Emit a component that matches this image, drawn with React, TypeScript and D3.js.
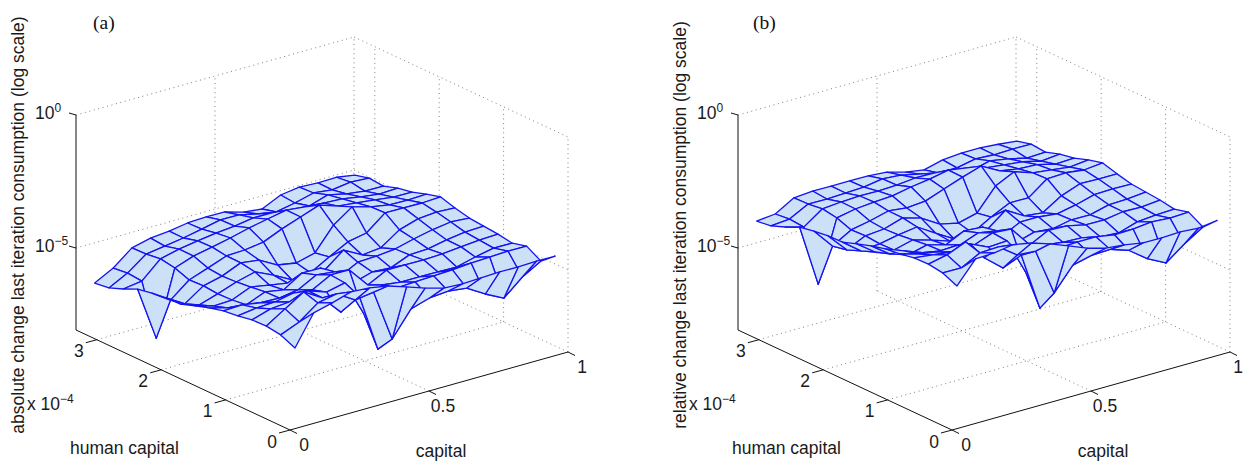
import React from "react";
import * as d3 from "d3";

const capitalGrid = [0.018,0.085,0.152,0.219,0.286,0.352,0.419,0.486,0.553,0.620,0.687,0.754,0.821,0.887,0.954];
const humanGrid = [0,0.222,0.444,0.667,0.889,1.111,1.333,1.556,1.778,2,2.222,2.444,2.667,2.889,3.111];
const humanTicks = [0,1,2,3];
const capitalTicks = [0,0.5,1];
const logTicks = [0,-5];

// log10 of the change; rows: human capital, columns: capital
const absoluteChange = [
[-5.05,-3.93,-3.75,-3.53,-3.58,-3.70,-3.93,-4.17,-4.37,-4.41,-4.38,-4.35,-4.36,-4.33,-4.34],
[-4.81,-4.52,-4.00,-3.86,-4.28,-4.18,-6.14,-5.21,-4.99,-4.93,-5.01,-5.43,-5.78,-5.18,-4.78],
[-4.73,-4.28,-3.84,-4.26,-4.99,-4.58,-6.77,-4.67,-4.64,-4.61,-4.58,-4.52,-4.49,-4.46,-4.47],
[-4.75,-4.53,-4.47,-4.25,-4.49,-4.34,-5.67,-4.81,-4.90,-4.90,-4.91,-4.92,-4.74,-4.60,-4.61],
[-4.85,-4.75,-4.72,-4.58,-4.66,-4.29,-4.30,-5.06,-4.70,-4.70,-4.71,-4.68,-4.61,-4.55,-4.52],
[-4.91,-4.88,-5.00,-5.02,-4.91,-4.54,-4.62,-5.23,-5.02,-5.06,-4.77,-4.74,-4.60,-4.50,-4.47],
[-5.05,-5.25,-5.33,-5.04,-5.16,-4.72,-4.73,-5.26,-4.90,-4.87,-4.80,-4.62,-4.47,-4.37,-4.42],
[-5.23,-5.43,-5.40,-5.11,-5.23,-5.35,-5.35,-5.25,-4.70,-5.08,-5.01,-4.53,-4.31,-4.25,-4.29],
[-5.41,-5.64,-5.42,-5.17,-4.99,-5.30,-5.68,-5.61,-5.21,-4.84,-4.70,-4.14,-4.15,-4.16,-4.13],
[-5.43,-5.85,-5.37,-5.20,-4.90,-4.99,-5.37,-5.49,-5.31,-4.46,-3.97,-4.17,-4.29,-4.30,-4.27],
[-5.50,-5.96,-5.40,-5.15,-4.89,-4.86,-4.76,-4.46,-4.21,-3.96,-4.19,-4.27,-4.35,-4.44,-4.45],
[-5.60,-7.64,-5.20,-4.95,-4.81,-4.66,-4.48,-4.34,-4.20,-4.28,-4.33,-4.37,-4.49,-4.58,-4.55],
[-5.85,-5.75,-5.11,-4.94,-4.83,-4.73,-4.66,-4.55,-4.56,-4.68,-4.69,-4.47,-4.63,-4.72,-4.73],
[-6.06,-5.70,-5.18,-5.08,-4.97,-4.83,-4.68,-4.69,-4.85,-4.97,-4.83,-4.65,-4.73,-4.63,-4.68],
[-6.13,-5.76,-5.20,-5.03,-4.96,-4.85,-4.82,-4.83,-5.03,-5.11,-4.78,-4.68,-4.72,-4.70,-4.82],
];

const relativeChange = [
[-2.72,-1.90,-1.87,-1.76,-1.89,-2.12,-2.39,-2.67,-2.87,-2.94,-3.06,-3.07,-3.04,-3.09,-3.00],
[-2.48,-2.49,-2.12,-2.09,-2.59,-2.64,-4.41,-3.56,-3.39,-3.36,-3.59,-4.10,-4.46,-3.94,-3.50],
[-2.40,-2.25,-1.96,-2.75,-3.33,-3.04,-5.23,-3.17,-3.14,-3.14,-3.26,-3.24,-3.17,-3.22,-3.19],
[-2.42,-2.50,-2.59,-2.48,-2.80,-2.76,-4.12,-3.31,-3.40,-3.43,-3.59,-3.64,-3.42,-3.36,-3.33],
[-2.52,-2.72,-2.84,-2.81,-2.97,-2.71,-2.76,-3.56,-3.20,-3.23,-3.39,-3.40,-3.29,-3.31,-3.24],
[-2.58,-2.85,-3.12,-3.25,-3.22,-2.96,-3.08,-3.73,-3.52,-3.59,-3.45,-3.46,-3.28,-3.26,-3.19],
[-2.72,-3.22,-3.45,-3.27,-3.47,-3.14,-3.19,-3.76,-3.40,-3.40,-3.48,-3.34,-3.15,-3.13,-3.14],
[-2.90,-3.40,-3.52,-3.34,-3.54,-3.77,-3.81,-3.75,-3.20,-3.61,-3.69,-3.25,-2.99,-3.01,-3.01],
[-3.08,-3.61,-3.54,-3.40,-3.30,-3.72,-4.14,-4.11,-3.71,-3.37,-3.38,-2.86,-2.83,-2.92,-2.85],
[-3.10,-3.82,-3.49,-3.43,-3.21,-3.41,-3.83,-3.99,-3.81,-2.99,-2.65,-2.89,-2.97,-3.06,-2.99],
[-3.17,-3.93,-3.52,-3.38,-3.20,-3.28,-3.22,-2.96,-2.71,-2.49,-2.87,-2.99,-3.03,-3.20,-3.17],
[-3.27,-5.61,-3.32,-3.18,-3.12,-3.08,-2.94,-2.84,-2.70,-2.81,-3.01,-3.09,-3.17,-3.34,-3.27],
[-3.52,-3.72,-3.23,-3.17,-3.14,-3.15,-3.12,-3.05,-3.06,-3.21,-3.37,-3.19,-3.31,-3.48,-3.45],
[-3.73,-3.67,-3.30,-3.31,-3.28,-3.25,-3.14,-3.19,-3.35,-3.50,-3.51,-3.37,-3.41,-3.39,-3.40],
[-3.80,-3.73,-3.32,-3.26,-3.27,-3.27,-3.28,-3.33,-3.53,-3.64,-3.46,-3.40,-3.40,-3.46,-3.54],
];

const SANS = "'Liberation Sans', Arial, sans-serif";
const SERIF = "'Liberation Serif', serif";
const DOT = "#707070";

// oblique projection of the three data axes onto the page
const capX = d3.scaleLinear().domain([0, 1]).range([0, 278]);
const capY = d3.scaleLinear().domain([0, 1]).range([0, -78]);
const humX = d3.scaleLinear().domain([0, 3.323]).range([0, -214]);
const humY = d3.scaleLinear().domain([0, 3.323]).range([0, -100]);
const zY = d3.scaleLinear().domain([-8.08, 0]).range([0, -215]);
const C_MAX = 1;
const H_MAX = 3.323;
const Z_MIN = -8.08;
const Z_MAX = 0;

type P = [number, number];
const pr = (c: number, h: number, z: number): P => [
  290 + capX(c) + humX(h),
  430 + capY(c) + humY(h) + zY(z),
];
const lineGen = d3.line<P>();

function Panel({ dx, grid, tag, tagX, yLabel }: { dx: number; grid: number[][]; tag: string; tagX: number; yLabel: string }) {
  const dotted: [P, P][] = [];
  const add = (a: P, b: P) => dotted.push([a, b]);
  capitalTicks.filter((c) => c > 0).forEach((c) => {
    add(pr(c, 0, Z_MIN), pr(c, H_MAX, Z_MIN));
    add(pr(c, H_MAX, Z_MIN), pr(c, H_MAX, Z_MAX));
  });
  humanTicks.forEach((h) => {
    if (h > 0) add(pr(0, h, Z_MIN), pr(C_MAX, h, Z_MIN));
    add(pr(C_MAX, h, Z_MIN), pr(C_MAX, h, Z_MAX));
  });
  logTicks.forEach((z) => {
    add(pr(0, H_MAX, z), pr(C_MAX, H_MAX, z));
    add(pr(C_MAX, H_MAX, z), pr(C_MAX, 0, z));
  });

  const cells: { d: string }[] = [];
  for (let j = humanGrid.length - 2; j >= 0; j--) {
    for (let i = capitalGrid.length - 2; i >= 0; i--) {
      const q: P[] = [
        pr(capitalGrid[i], humanGrid[j], grid[j][i]),
        pr(capitalGrid[i + 1], humanGrid[j], grid[j][i + 1]),
        pr(capitalGrid[i + 1], humanGrid[j + 1], grid[j + 1][i + 1]),
        pr(capitalGrid[i], humanGrid[j + 1], grid[j + 1][i]),
      ];
      cells.push({ d: lineGen(q) + "Z" });
    }
  }

  const hTickLen: P = [-11, 3];
  const cTickLen: P = [7, 3.5];
  const zTickLen: P = [-7, -2];

  const axis = [pr(0, H_MAX, Z_MAX), pr(0, H_MAX, Z_MIN), pr(0, 0, Z_MIN), pr(C_MAX, 0, Z_MIN)];

  return (
    <g transform={`translate(${dx},0)`}>
      {dotted.map(([a, b], k) => (
        <path key={k} d={lineGen([a, b]) as string} fill="none" stroke={DOT} strokeWidth={0.9} strokeDasharray="1 3.6" />
      ))}
      <path d={lineGen(axis) as string} fill="none" stroke="#111" strokeWidth={1} />
      {humanTicks.map((h) => {
        const p = pr(0, h, Z_MIN);
        return <line key={h} x1={p[0]} y1={p[1]} x2={p[0] + hTickLen[0]} y2={p[1] + hTickLen[1]} stroke="#111" strokeWidth={1} />;
      })}
      {capitalTicks.map((c) => {
        const p = pr(c, 0, Z_MIN);
        return <line key={c} x1={p[0]} y1={p[1]} x2={p[0] + cTickLen[0]} y2={p[1] + cTickLen[1]} stroke="#111" strokeWidth={1} />;
      })}
      {logTicks.map((z) => {
        const p = pr(0, H_MAX, z);
        return <line key={z} x1={p[0]} y1={p[1]} x2={p[0] + zTickLen[0]} y2={p[1] + zTickLen[1]} stroke="#111" strokeWidth={1} />;
      })}
      {cells.map((q, k) => (
        <path key={k} d={q.d} fill="#cce0f8" stroke="#1414f0" strokeWidth={1.3} strokeLinejoin="round" />
      ))}
      <g fontFamily={SANS} fontSize={17.5} fill="#1a1a1a">
        {humanTicks.map((h) => {
          const p = pr(0, h, Z_MIN);
          return <text key={h} x={p[0] - 18} y={p[1] + 17.5} textAnchor="middle">{h}</text>;
        })}
        {capitalTicks.map((c) => {
          const p = pr(c, 0, Z_MIN);
          return <text key={c} x={Math.min(p[0] + 14, 1238 - dx)} y={p[1] + 20.5} textAnchor="middle">{c}</text>;
        })}
        {logTicks.map((z) => {
          const p = pr(0, H_MAX, z);
          return (
            <text key={z} x={35} y={p[1] + 3.5}>
              10<tspan dy={-7} fontSize={12}>{z === 0 ? "0" : "\u22125"}</tspan>
            </text>
          );
        })}
        <text x={27} y={410}>x 10<tspan dy={-7} fontSize={12}>{"\u22124"}</tspan></text>
        <text x={70} y={454}>human capital</text>
        <text x={441} y={456.5} textAnchor="middle">capital</text>
        <text transform="translate(24,225) rotate(-90)" textAnchor="middle">{yLabel}</text>
      </g>
      <text x={tagX} y={29} fontFamily={SERIF} fontSize={19.5} fill="#111">{tag}</text>
    </g>
  );
}

export default function App() {
  return (
    <svg width={1244} height={461} style={{ position: "absolute", left: 0, top: 0, background: "#fff" }}>
      <Panel dx={0} grid={absoluteChange} tag="(a)" tagX={93} yLabel="absolute change last iteration consumption (log scale)" />
      <Panel dx={662} grid={relativeChange} tag="(b)" tagX={91} yLabel="relative change last iteration consumption (log scale)" />
    </svg>
  );
}
